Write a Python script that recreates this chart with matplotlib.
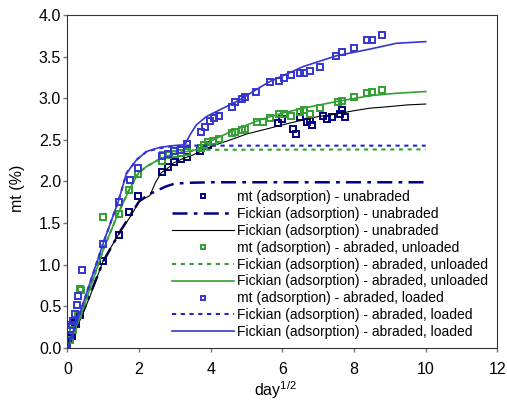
import matplotlib
matplotlib.use("Agg")
import matplotlib.pyplot as plt

plt.rcParams['font.family'] = ['Liberation Sans', 'DejaVu Sans']
plt.rcParams['mathtext.default'] = 'regular'

# measured uptake, unabraded
x_un = [0, 0.07, 0.12, 0.21, 0.24, 0.35, 1.0, 1.44, 1.72, 1.98, 2.64, 2.81, 2.97, 3.17, 3.34,
        3.70, 3.93, 5.88, 6.0, 6.30, 6.39, 6.49, 6.69, 6.78, 6.83, 7.12, 7.25, 7.38, 7.60, 7.65, 7.74]
y_un = [0, 0.12, 0.14, 0.30, 0.29, 0.40, 1.05, 1.36, 1.63, 1.82, 2.11, 2.17, 2.23, 2.27, 2.29,
        2.36, 2.44, 2.70, 2.75, 2.63, 2.57, 2.78, 2.72, 2.74, 2.68, 2.79, 2.75, 2.77, 2.81, 2.86, 2.77]

# measured uptake, abraded + unloaded
x_ab = [0.07, 0.16, 0.30, 0.35, 0.37, 1.0, 1.44, 1.72, 1.98, 2.64, 2.67, 2.81, 2.99, 3.17, 3.34,
        3.72, 3.82, 3.93, 4.07, 4.23, 4.58, 4.67, 4.86, 4.97, 5.28, 5.46, 5.65, 5.91, 6.05, 6.23,
        6.49, 6.61, 6.78, 7.04, 7.54, 7.65, 7.99, 8.35, 8.51, 8.77]
y_ab = [0.10, 0.22, 0.40, 0.71, 0.69, 1.57, 1.61, 1.90, 2.09, 2.25, 2.32, 2.32, 2.33, 2.34, 2.35,
        2.40, 2.44, 2.47, 2.49, 2.51, 2.58, 2.59, 2.62, 2.63, 2.71, 2.72, 2.76, 2.81, 2.81, 2.79,
        2.84, 2.86, 2.81, 2.88, 2.95, 2.97, 3.01, 3.06, 3.08, 3.10]

# measured uptake, abraded + loaded
x_ld = [0, 0.07, 0.12, 0.16, 0.21, 0.27, 0.30, 0.40, 1.0, 1.44, 1.74, 1.98, 2.64, 2.81, 2.97,
        3.17, 3.34, 3.72, 3.84, 3.97, 4.10, 4.23, 4.58, 4.67, 4.86, 4.97, 5.26, 5.65, 5.91, 6.05,
        6.23, 6.49, 6.61, 6.78, 7.04, 7.51, 7.65, 7.99, 8.35, 8.51, 8.77]
y_ld = [0, 0.16, 0.28, 0.32, 0.41, 0.52, 0.62, 0.93, 1.25, 1.75, 2.02, 2.16, 2.31, 2.33, 2.36,
        2.38, 2.45, 2.59, 2.65, 2.73, 2.76, 2.79, 2.90, 2.96, 2.99, 3.02, 3.07, 3.19, 3.21, 3.24,
        3.28, 3.30, 3.30, 3.33, 3.38, 3.51, 3.55, 3.60, 3.70, 3.70, 3.76]

# Fickian fits
fx_un1 = [0, 0.5, 1.0, 1.5, 2.0, 2.25, 2.5, 2.75, 3.0, 3.5, 4.0, 10.0]
fy_un1 = [0, 0.50, 1.04, 1.42, 1.76, 1.84, 1.89, 1.94, 1.975, 1.985, 1.99, 1.99]

fx_un2 = [0, 0.4, 0.63, 1.0, 1.42, 1.79, 2.0, 2.3, 2.45, 2.61, 2.86, 2.95, 3.2, 3.51, 4.07,
          4.62, 5.0, 5.37, 5.65, 6.0, 6.58, 7.0, 7.51, 8.0, 8.44, 9.0, 9.5, 10.0]
fy_un2 = [0, 0.38, 0.62, 1.05, 1.36, 1.60, 1.76, 1.83, 1.98, 2.10, 2.18, 2.22, 2.27, 2.32, 2.43,
          2.51, 2.57, 2.61, 2.64, 2.68, 2.74, 2.78, 2.81, 2.85, 2.88, 2.90, 2.92, 2.93]

fx_ab1 = [0, 0.4, 1.0, 1.42, 1.7, 1.98, 2.21, 2.58, 2.95, 3.32, 3.7, 10.0]
fy_ab1 = [0, 0.42, 1.18, 1.62, 1.88, 2.10, 2.18, 2.27, 2.33, 2.36, 2.38, 2.385]

fx_ab2 = [0, 0.4, 1.0, 1.42, 1.7, 1.98, 2.21, 2.58, 2.95, 3.32, 3.6, 3.8, 4.07, 4.62, 5.37,
          6.0, 6.58, 7.51, 8.44, 9.2, 10.0]
fy_ab2 = [0, 0.42, 1.18, 1.62, 1.88, 2.10, 2.18, 2.27, 2.33, 2.36, 2.38, 2.43, 2.50, 2.61, 2.74,
          2.82, 2.88, 2.96, 3.03, 3.06, 3.08]

fx_ld1 = [0, 0.35, 1.0, 1.42, 1.65, 1.93, 2.21, 2.58, 2.95, 3.3, 10.0]
fy_ld1 = [0, 0.42, 1.26, 1.76, 2.10, 2.26, 2.36, 2.40, 2.425, 2.43, 2.43]

fx_ld2 = [0, 0.35, 1.0, 1.42, 1.65, 1.93, 2.21, 2.58, 2.95, 3.28, 3.42, 3.6, 3.88, 4.25, 4.81,
          5.37, 5.65, 6.58, 7.51, 8.44, 9.18, 10.0]
fy_ld2 = [0, 0.42, 1.26, 1.76, 2.10, 2.26, 2.36, 2.41, 2.43, 2.44, 2.56, 2.68, 2.78, 2.86, 2.98,
          3.13, 3.20, 3.38, 3.51, 3.59, 3.66, 3.68]

navy = '#000080'
green = '#33a033'
blue = '#3535d0'

fig = plt.figure(figsize=(5.07, 4.05), dpi=100)
ax = fig.add_axes([0.133, 0.141, 0.848, 0.822])

msq = dict(marker='s', ls='none', ms=4.3, mfc='none', mew=1.4)
ax.plot(x_un, y_un, color=navy, label='mt (adsorption) - unabraded', **msq)
ax.plot(fx_un1, fy_un1, color=navy, lw=1.8, dashes=(6, 2.5, 1.5, 2.5),
        label='Fickian (adsorption) - unabraded')
ax.plot(fx_un2, fy_un2, color='black', lw=0.8, label='Fickian (adsorption) - unabraded')
ax.plot(x_ab, y_ab, color=green, label='mt (adsorption) - abraded, unloaded', **msq)
ax.plot(fx_ab1, fy_ab1, color=green, lw=1.5, dashes=(2, 2.2),
        label='Fickian (adsorption) - abraded, unloaded')
ax.plot(fx_ab2, fy_ab2, color=green, lw=1.2, label='Fickian (adsorption) - abraded, unloaded')
ax.plot(x_ld, y_ld, color=blue, label='mt (adsorption) - abraded, loaded', **msq)
ax.plot(fx_ld1, fy_ld1, color='#2222cc', lw=1.5, dashes=(2, 2.2),
        label='Fickian (adsorption) - abraded, loaded')
ax.plot(fx_ld2, fy_ld2, color=blue, lw=1.2, label='Fickian (adsorption) - abraded, loaded')

ax.set_xlim(0, 12)
ax.set_ylim(0, 4)
ax.set_xticks(range(0, 13, 2))
ax.set_yticks([0, 0.5, 1, 1.5, 2, 2.5, 3, 3.5, 4])
ax.set_yticklabels(['%.1f' % v for v in ax.get_yticks()])
ax.tick_params(direction='out', length=3, width=1, color='#777777', labelsize=11.5)
ax.tick_params(axis='x', pad=7.5)
ax.tick_params(axis='y', pad=1.5)
for s in ax.spines.values():
    s.set_color('#333333')
ax.set_xlabel('day$^{1/2}$', fontsize=11.5, va='top')
ax.xaxis.set_label_coords(0.483, -0.093)
ax.set_ylabel('mt (%)', fontsize=11.5, va='center')
ax.yaxis.set_label_coords(-0.117, 0.479)

leg = ax.legend(loc='lower right', bbox_to_anchor=(0.978, 0.026), frameon=False, fontsize=10,
                numpoints=1, markerscale=0.8, handlelength=4.45, handletextpad=0.2,
                labelspacing=0.21, borderpad=0, borderaxespad=0)

fig.savefig('out.png', dpi=100)
